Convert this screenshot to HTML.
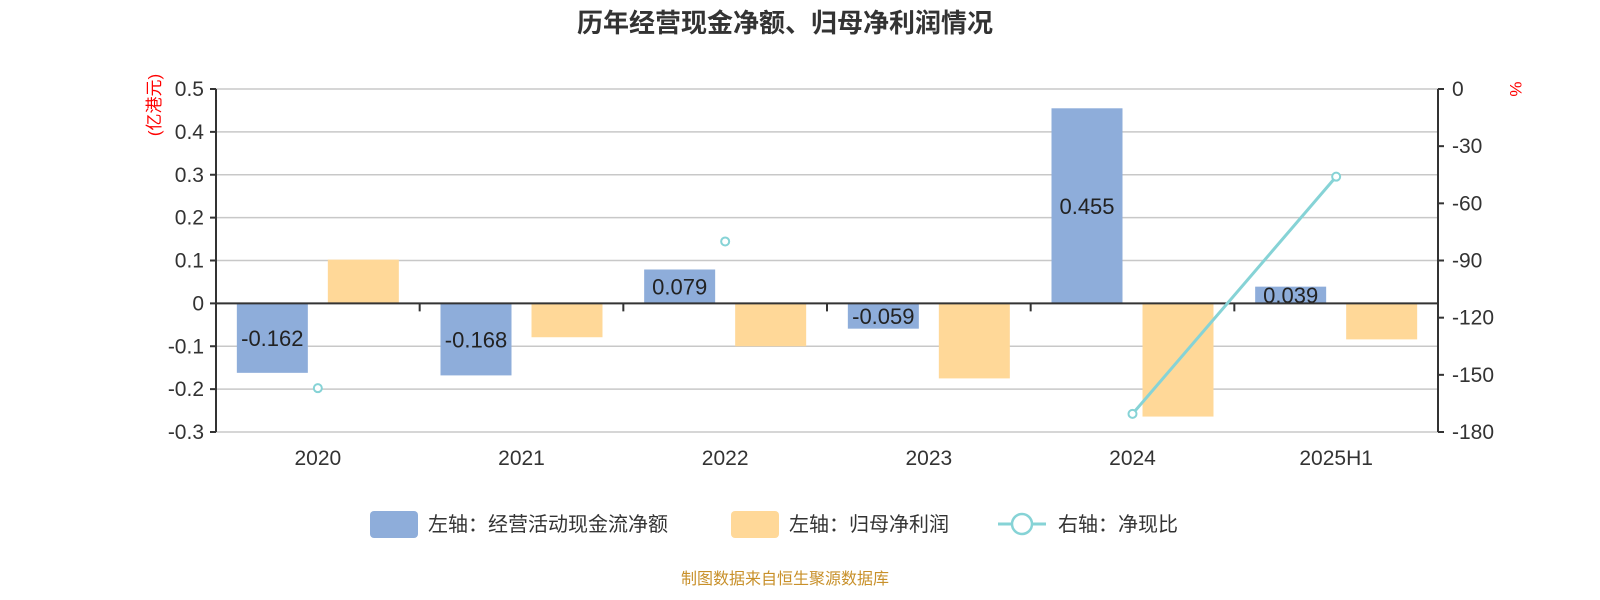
<!DOCTYPE html>
<html><head><meta charset="utf-8"><style>
html,body{margin:0;padding:0;background:#fff;overflow:hidden;font-family:"Liberation Sans","Noto Sans CJK SC",sans-serif;}
svg{display:block;}
svg text{font-family:"Liberation Sans","Noto Sans CJK SC",sans-serif;}
</style></head><body>
<svg id="c" width="1600" height="600" xmlns="http://www.w3.org/2000/svg"></svg>
<script>
const categories=["2020","2021","2022","2023","2024","2025H1"];
const cashFlow=[-0.162,-0.168,0.079,-0.059,0.455,0.039];
const netProfit=[0.102,-0.079,-0.100,-0.175,-0.264,-0.084];
const ratio=[-157,null,-80,null,-170.5,-46];
const leftTicks=[0.5,0.4,0.3,0.2,0.1,0,-0.1,-0.2,-0.3];
const rightTicks=[0,-30,-60,-90,-120,-150,-180];
const NS="http://www.w3.org/2000/svg";
const svg=document.getElementById('c');
function mk(t,a,p){const e=document.createElementNS(NS,t);for(const k in a)e.setAttribute(k,a[k]);(p||svg).appendChild(e);return e;}
const X0=216,X1=1438,YT=89,YB=432;
const yL=v=>YT+(0.5-v)/0.8*(YB-YT);
const yR=v=>YT+(0-v)/180*(YB-YT);
const cw=(X1-X0)/categories.length;
const cx=i=>X0+cw*(i+0.5);
let t=mk('text',{x:785,y:32,'text-anchor':'middle','font-size':26,'font-weight':'bold',fill:'#333'});t.textContent='历年经营现金净额、归母净利润情况';

leftTicks.forEach(v=>{const y=yL(v);
 const g=mk('line',{x1:X0,x2:X1,y1:y,y2:y,stroke:'#c8c8c8','stroke-width':1.5});
 mk('line',{x1:X0-6,x2:X0,y1:y,y2:y,stroke:'#333','stroke-width':2});
 const l=mk('text',{x:X0-12,y:y+7,'text-anchor':'end','font-size':21,fill:'#333'});l.textContent=String(v);
 });
rightTicks.forEach(v=>{const y=yR(v);
 mk('line',{x1:X1,x2:X1+6,y1:y,y2:y,stroke:'#333','stroke-width':2});
 const l=mk('text',{x:X1+14,y:y+7,'font-size':21,fill:'#333'});l.textContent=String(v);
 });
mk('line',{x1:X0,x2:X0,y1:YT,y2:YB,stroke:'#333','stroke-width':2});
mk('line',{x1:X1,x2:X1,y1:YT,y2:YB,stroke:'#333','stroke-width':2});
let u=mk('text',{x:0,y:0,'font-size':17,fill:'red','text-anchor':'middle',transform:'translate(160,105) rotate(-90)'});u.textContent='(亿港元)';

u=mk('text',{x:0,y:0,'font-size':17,fill:'red','text-anchor':'middle',transform:'translate(1510,89) rotate(90)'});u.textContent='%';

const bw=71;
categories.forEach((c,i)=>{
 const y0=yL(0);
 let v=cashFlow[i],y=yL(v);
 const b=mk('rect',{x:cx(i)-10-bw,y:Math.min(y,y0),width:bw,height:Math.abs(y-y0),fill:'#8eadda'});
 
 const lb=mk('text',{x:cx(i)-10-bw/2,y:(y+y0)/2+8,'text-anchor':'middle','font-size':22,fill:'#222'});lb.textContent=v.toFixed(3);
 
 v=netProfit[i];y=yL(v);
 const o=mk('rect',{x:cx(i)+10,y:Math.min(y,y0),width:bw,height:Math.abs(y-y0),fill:'#ffd898'});
 
 const xl=mk('text',{x:cx(i),y:465,'text-anchor':'middle','font-size':21,fill:'#333'});xl.textContent=c;
 
 if(i>0)mk('line',{x1:X0+cw*i,x2:X0+cw*i,y1:yL(0),y2:yL(0)+8,stroke:'#333','stroke-width':2});
});
mk('line',{x1:X0,x2:X1,y1:yL(0),y2:yL(0),stroke:'#333','stroke-width':2});
for(let i=1;i<ratio.length;i++){if(ratio[i]!==null&&ratio[i-1]!==null){
 const s=mk('line',{x1:cx(i-1),y1:yR(ratio[i-1]),x2:cx(i),y2:yR(ratio[i]),stroke:'#86d3d6','stroke-width':3});
 }}
ratio.forEach((v,i)=>{if(v===null)return;const p=mk('circle',{cx:cx(i),cy:yR(v),r:4,fill:'#fff',stroke:'#86d3d6','stroke-width':2});
 });
let lg=mk('rect',{x:370,y:511,width:48,height:27,rx:4,fill:'#8eadda'});
let lt=mk('text',{x:428,y:531,'font-size':20,fill:'#333'});lt.textContent='左轴：经营活动现金流净额';
lg=mk('rect',{x:731,y:511,width:48,height:27,rx:4,fill:'#ffd898'});
lt=mk('text',{x:789,y:531,'font-size':20,fill:'#333'});lt.textContent='左轴：归母净利润';
mk('line',{x1:998,x2:1046,y1:524,y2:524,stroke:'#86d3d6','stroke-width':3});
lg=mk('circle',{cx:1022,cy:524,r:10,fill:'#fff',stroke:'#86d3d6','stroke-width':2.5});
lt=mk('text',{x:1058,y:531,'font-size':20,fill:'#333'});lt.textContent='右轴：净现比';
lt=mk('text',{x:785,y:584,'text-anchor':'middle','font-size':16,fill:'#c8902a'});lt.textContent='制图数据来自恒生聚源数据库';
</script>
</body></html>
